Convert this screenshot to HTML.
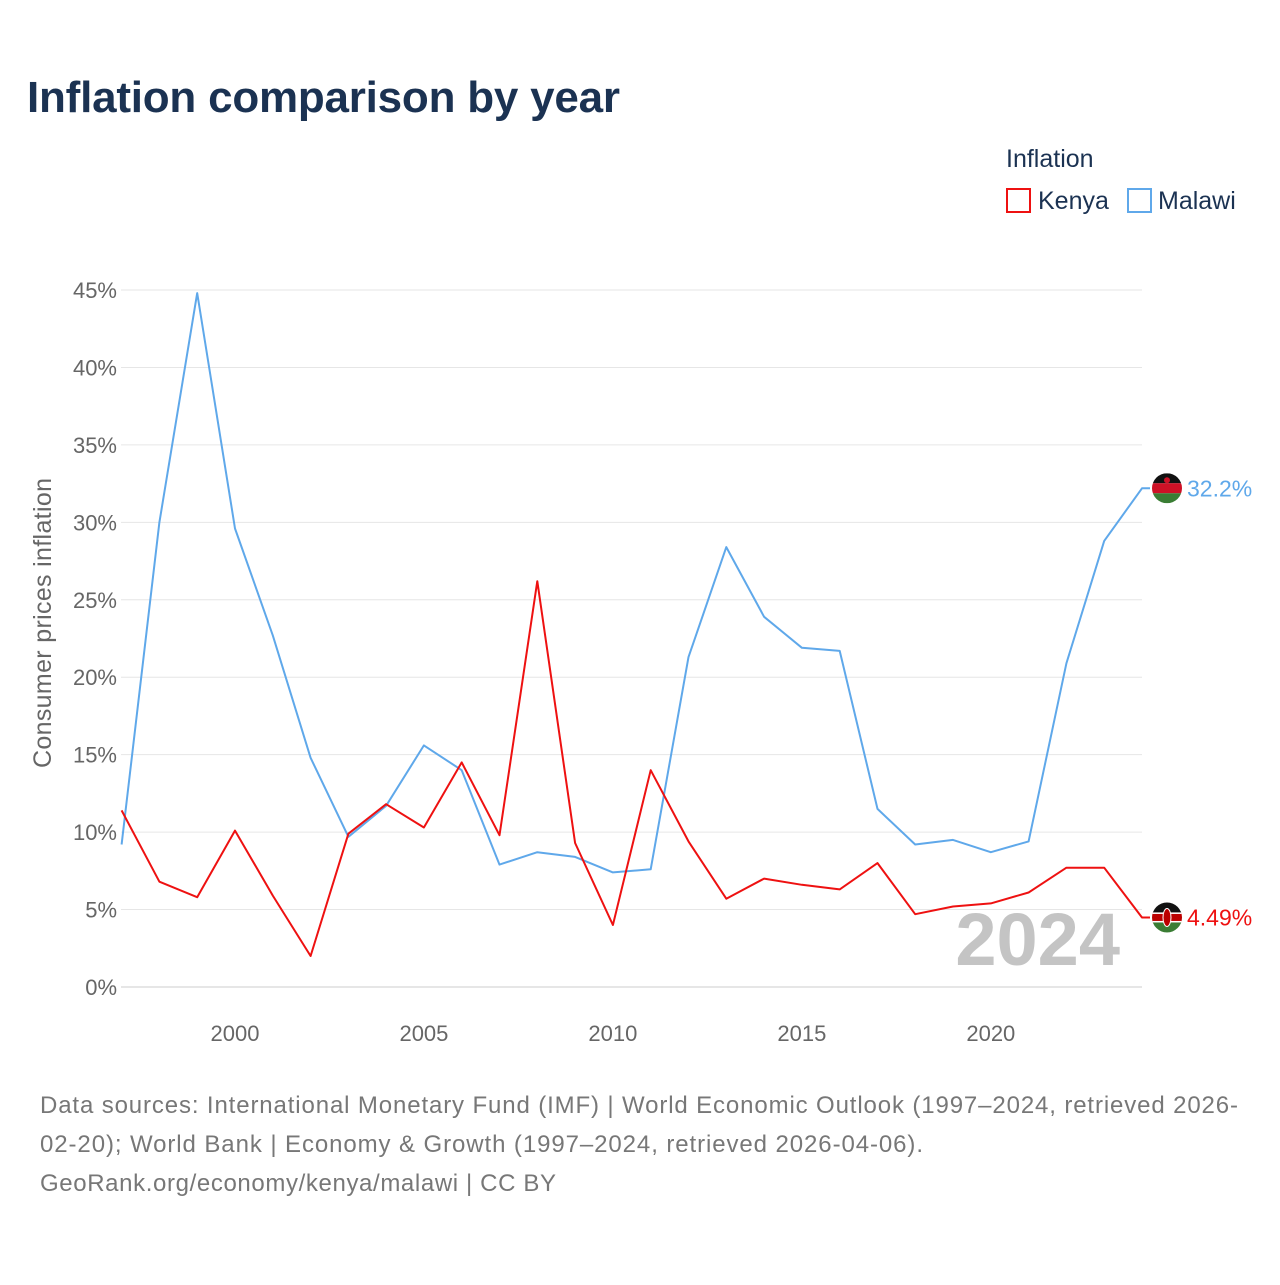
<!DOCTYPE html>
<html><head><meta charset="utf-8">
<style>
body{margin:0;background:#fff;font-family:"Liberation Sans",sans-serif;}
svg text{font-family:"Liberation Sans",sans-serif;}
</style></head>
<body>
<svg id="chart" width="1280" height="1280" viewBox="0 0 1280 1280" xmlns="http://www.w3.org/2000/svg">
<text x="27" y="112" font-size="44" font-weight="bold" fill="#1b3252" textLength="593">Inflation comparison by year</text>
<text x="1006" y="167" font-size="25" fill="#1b3252">Inflation</text>
<g><rect x="1007" y="189" width="23" height="23" fill="none" stroke="#ee1111" stroke-width="2"/><text x="1038" y="209" font-size="25" fill="#1b3252">Kenya</text></g>
<g><rect x="1128" y="189" width="23" height="23" fill="none" stroke="#5fa8ea" stroke-width="2"/><text x="1158" y="209" font-size="25" fill="#1b3252">Malawi</text></g>
<text transform="translate(51,623) rotate(-90)" text-anchor="middle" font-size="25" fill="#666" textLength="290">Consumer prices inflation</text>
<g id="grid"></g><g id="plot"></g>
<text x="1120" y="965" text-anchor="end" font-size="74" font-weight="bold" fill="#c4c4c4">2024</text>
<g font-size="24" fill="#777">
<text x="40" y="1113" textLength="1198">Data sources: International Monetary Fund (IMF) | World Economic Outlook (1997–2024, retrieved 2026-</text>
<text x="40" y="1152" textLength="883">02-20); World Bank | Economy &amp; Growth (1997–2024, retrieved 2026-04-06).</text>
<text x="40" y="1191" textLength="516">GeoRank.org/economy/kenya/malawi | CC BY</text>
</g>
</svg>
<script>
const years=[1997,1998,1999,2000,2001,2002,2003,2004,2005,2006,2007,2008,2009,2010,2011,2012,2013,2014,2015,2016,2017,2018,2019,2020,2021,2022,2023,2024];
const kenya=[11.4,6.8,5.8,10.1,5.9,2.0,9.9,11.8,10.3,14.5,9.8,26.2,9.3,4.0,14.0,9.4,5.7,7.0,6.6,6.3,8.0,4.7,5.2,5.4,6.1,7.7,7.7,4.49];
const malawi=[9.2,30.0,44.8,29.6,22.7,14.8,9.7,11.7,15.6,14.0,7.9,8.7,8.4,7.4,7.6,21.3,28.4,23.9,21.9,21.7,11.5,9.2,9.5,8.7,9.4,20.9,28.8,32.2];
const yTicks=[0,5,10,15,20,25,30,35,40,45];
const xTicks=[2000,2005,2010,2015,2020];
const NS="http://www.w3.org/2000/svg";
const X=y=>121.6+(y-1997)*(1142-121.6)/27;
const Y=v=>987-v*(987-290)/45;
function mk(tag,attrs,parent){const e=document.createElementNS(NS,tag);for(const k in attrs)e.setAttribute(k,attrs[k]);parent.appendChild(e);return e;}
const grid=document.getElementById('grid'),plot=document.getElementById('plot');
yTicks.forEach(t=>{
 const l=mk('line',{x1:121,x2:1142,y1:Y(t),y2:Y(t),stroke:t===0?'#ccc':'#e6e6e6','stroke-width':1},grid);
 
 
 const tx=mk('text',{x:117,y:Y(t)+8,'text-anchor':'end','font-size':22,fill:'#666'},grid);
 tx.textContent=t+'%';
 
 
});
xTicks.forEach(t=>{
 const tx=mk('text',{x:X(t),y:1041,'text-anchor':'middle','font-size':22,fill:'#666'},grid);
 tx.textContent=t;
 
 
});
function series(vals,color,name){
 const d=vals.map((v,i)=>(i?'L':'M')+X(years[i]).toFixed(1)+','+Y(v).toFixed(1)).join('')+'L1150,'+Y(vals[vals.length-1]).toFixed(1);
 const p=mk('path',{d:d,fill:'none',stroke:color,'stroke-width':2,'stroke-linejoin':'round'},plot);
 
 
}
series(malawi,'#5fa8ea','malawi');
series(kenya,'#ee1111','kenya');
function flag(cy,kind){
 const g=mk('g',{},plot);
 
 
 const id='c'+kind;
 const cp=mk('clipPath',{id:id},g);mk('circle',{cx:1167,cy:cy,r:15},cp);
 const gg=mk('g',{'clip-path':'url(#'+id+')'},g);
 if(kind==='malawi'){
  mk('rect',{x:1150,y:cy-15,width:34,height:10,fill:'#111'},gg);
  mk('rect',{x:1150,y:cy-5,width:34,height:10,fill:'#ce1126'},gg);
  mk('rect',{x:1150,y:cy+5,width:34,height:10,fill:'#3a7d34'},gg);
  mk('circle',{cx:1167,cy:cy-8,r:3,fill:'#ce1126'},gg);
 } else {
  mk('rect',{x:1150,y:cy-15,width:34,height:10,fill:'#111'},gg);
  mk('rect',{x:1150,y:cy-5,width:34,height:10,fill:'#bb0000'},gg);
  mk('rect',{x:1150,y:cy+5,width:34,height:10,fill:'#3a7d34'},gg);
  mk('rect',{x:1150,y:cy-5,width:34,height:1.5,fill:'#fff'},gg);
  mk('rect',{x:1150,y:cy+3.5,width:34,height:1.5,fill:'#fff'},gg);
  mk('ellipse',{cx:1167,cy:cy,rx:4,ry:9,fill:'#bb0000',stroke:'#fff','stroke-width':1},gg);
 }
}
const ym=Y(malawi[malawi.length-1]),yk=Y(kenya[kenya.length-1]);
flag(ym,'malawi');flag(yk,'kenya');
const lm=mk('text',{x:1187,y:ym+8,'font-size':23,fill:'#5fa8ea'},plot);lm.textContent=malawi[malawi.length-1]+'%';


const lk=mk('text',{x:1187,y:yk+8,'font-size':23,fill:'#ee1111'},plot);lk.textContent=kenya[kenya.length-1]+'%';


</script>
</body></html>
